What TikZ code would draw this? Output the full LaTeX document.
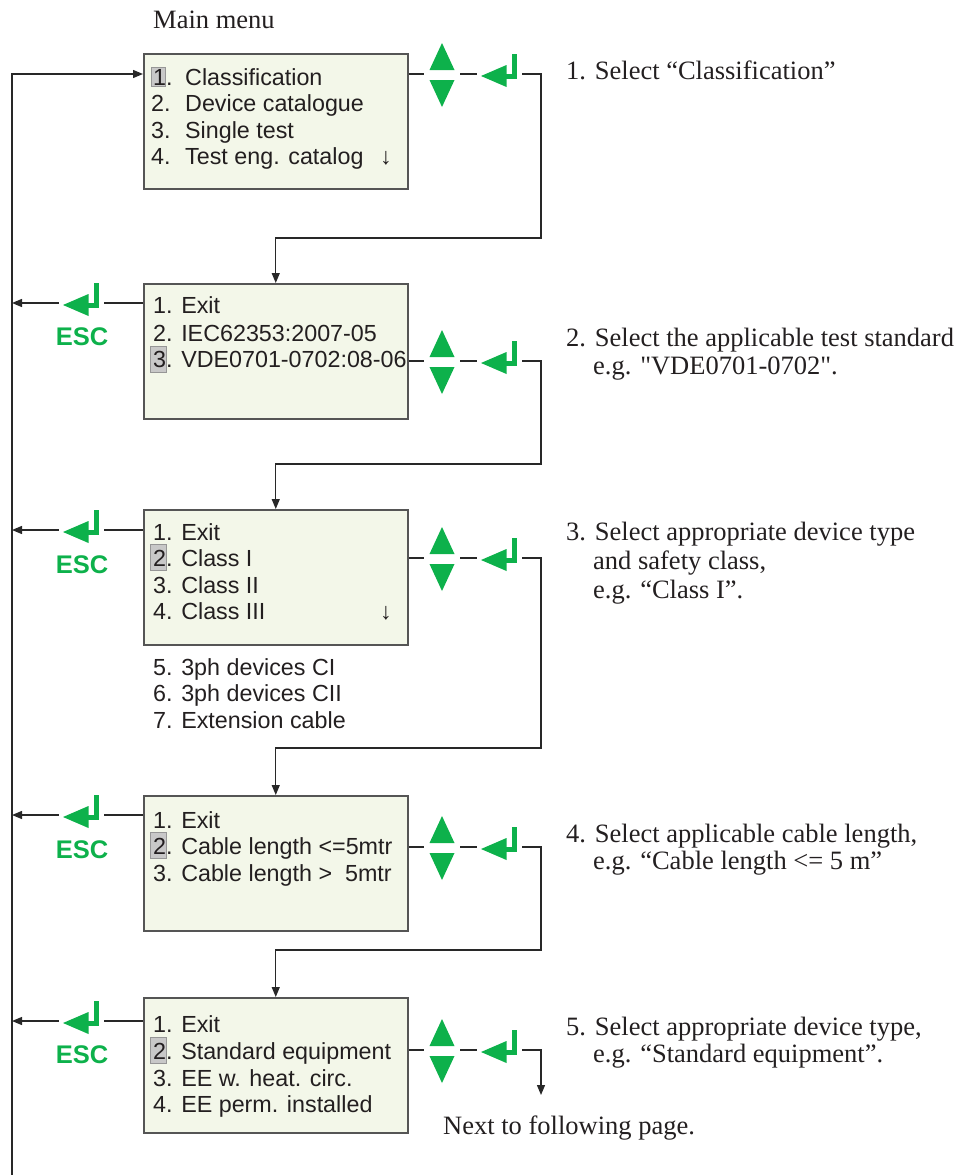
\documentclass[tikz,border=0pt]{standalone}
\usepackage{fontspec}
\setmainfont{Liberation Serif}[Ligatures=TeXOff]
\newfontfamily\lsans{Liberation Sans}
\usetikzlibrary{arrows.meta,calc}
\definecolor{keygreen}{RGB}{13,177,75}
\definecolor{lcdfill}{RGB}{243,247,233}
\definecolor{lcdline}{RGB}{85,85,85}
\definecolor{wirecol}{RGB}{40,40,40}
\definecolor{hlfill}{RGB}{200,200,200}
\definecolor{hlline}{RGB}{150,150,150}
\definecolor{ink}{RGB}{35,31,32}
\tikzset{
  lcd/.style={draw=lcdline, line width=1.5pt, fill=lcdfill, minimum width=264pt, minimum height=135pt, inner sep=0pt, anchor=north west},
  lcdtext/.style={font=\lsans\fontsize{23.3}{27}\selectfont, inner sep=0pt, anchor=base west, text=ink},
  note/.style={font=\fontsize{26.5}{28}\selectfont, inner sep=0pt, anchor=base west, text=ink},
  esclabel/.style={font=\lsans\bfseries\fontsize{25.5}{28}\selectfont, text=keygreen, inner sep=0pt},
  keyslot/.style={inner sep=0pt, minimum width=36pt, minimum height=10pt},
  entslot/.style={inner sep=0pt, minimum width=45pt, minimum height=10pt},
  wire/.style={draw=wirecol, line width=1.3pt},
  arr/.style={wire, -{Triangle[length=10pt,width=8pt]}},
  hl/.style={fill=hlfill, draw=hlline, line width=0.8pt},
  pics/updown/.style={code={
    \fill[keygreen] (-12.5,-4) -- (12.5,-4) -- (0,-31) -- cycle;
    \fill[keygreen] (-12.5,6) -- (12.5,6) -- (0,33) -- cycle;}},
  pics/enterkey/.style={code={
    \fill[keygreen] (-18.5,2) -- (7,-9) -- (7,13) -- cycle;
    \fill[keygreen] (5,-0.5) rectangle (17.5,4.5);
    \fill[keygreen] (12.5,4.5) rectangle (17.5,-20);}},
}
\begin{document}
\begin{tikzpicture}[x=1pt,y=-1pt]
\useasboundingbox (0,0) rectangle (956,1175);

% ---------- boxes ----------
\node[lcd] (b1) at (143,53) {};
\node[lcd] (b2) at (143,283) {};
\node[lcd] (b3) at (143,509) {};
\node[lcd] (b4) at (143,795) {};
\node[lcd] (b5) at (143,997) {};

% ---------- highlights ----------
\draw[hl] (151,86.5) rectangle (165,67);
\draw[hl] (150,372) rectangle (166,346);
\draw[hl] (150,570) rectangle (166,544);
\draw[hl] (150,858) rectangle (166,832);
\draw[hl] (150,1063) rectangle (166,1037);

% ---------- box 1 ----------
\node[note] (title) at (153,28) {Main menu};
\node[lcdtext] (b1n1) at (153,85) {1.};
\node[lcdtext] (b1t1) at (185,85) {Classification};
\node[lcdtext] (b1n2) at (151,111) {2.};
\node[lcdtext] (b1t2) at (185,111) {Device catalogue};
\node[lcdtext] (b1n3) at (151,138) {3.};
\node[lcdtext] (b1t3) at (185,138) {Single test};
\node[lcdtext] (b1n4) at (151,164) {4.};
\node[lcdtext] (b1t4) at (185,164) {Test eng. catalog};
\node[lcdtext] (b1dn) at (380,164) {↓};

% ---------- box 2 ----------
\node[lcdtext] (b2t1) at (153,313) {1. Exit};
\node[lcdtext] (b2t2) at (153,341) {2. IEC62353:2007-05};
\node[lcdtext] (b2t3) at (153,367) {3. VDE0701-0702:08-06};

% ---------- box 3 ----------
\node[lcdtext] (b3t1) at (153,540) {1. Exit};
\node[lcdtext] (b3t2) at (153,566) {2. Class I};
\node[lcdtext] (b3t3) at (153,593) {3. Class II};
\node[lcdtext] (b3t4) at (153,619) {4. Class III};
\node[lcdtext] (b3dn) at (380,619) {↓};
\node[lcdtext] (b3t5) at (153,675) {5. 3ph devices CI};
\node[lcdtext] (b3t6) at (153,701) {6. 3ph devices CII};
\node[lcdtext] (b3t7) at (153,728) {7. Extension cable};

% ---------- box 4 ----------
\node[lcdtext] (b4t1) at (153,828) {1. Exit};
\node[lcdtext] (b4t2) at (153,854) {2. Cable length <=5mtr};
\node[lcdtext] (b4t3) at (153,881) {3. Cable length > \ 5mtr};

% ---------- box 5 ----------
\node[lcdtext] (b5t1) at (153,1032) {1. Exit};
\node[lcdtext] (b5t2) at (153,1059) {2. Standard equipment};
\node[lcdtext] (b5t3) at (153,1086) {3. EE w. heat. circ.};
\node[lcdtext] (b5t4) at (153,1112) {4. EE perm. installed};

% ---------- notes ----------
\node[note] (n1) at (566,79) {1. Select “Classification”};
\node[note] (n2a) at (566,346) {2. Select the applicable test standard};
\node[note] (n2b) at (593,374) {e.g. "VDE0701-0702".};
\node[note] (n3a) at (566,540) {3. Select appropriate device type};
\node[note] (n3b) at (593,569) {and safety class,};
\node[note] (n3c) at (593,598) {e.g. “Class I”.};
\node[note] (n4a) at (566,842) {4. Select applicable cable length,};
\node[note] (n4b) at (593,869) {e.g. “Cable length <= 5 m”};
\node[note] (n5a) at (566,1035) {5. Select appropriate device type,};
\node[note] (n5b) at (593,1062) {e.g. “Standard equipment”.};
\node[note] (next) at (443,1134) {Next to following page.};

% ---------- key slots (right side) ----------
\node[keyslot] (ud1) at (442,74) {};
\node[entslot] (en1) at (499.5,74) {};
\node[keyslot] (ud2) at (442,361) {};
\node[entslot] (en2) at (499.5,361) {};
\node[keyslot] (ud3) at (442,558) {};
\node[entslot] (en3) at (499.5,558) {};
\node[keyslot] (ud4) at (442,847) {};
\node[entslot] (en4) at (499.5,847) {};
\node[keyslot] (ud5) at (442,1050) {};
\node[entslot] (en5) at (499.5,1050) {};
\foreach \k in {1,...,5}{
  \pic at (ud\k) {updown};
  \pic at (en\k) {enterkey};
}

% ---------- ESC slots (left side) ----------
\node[entslot] (x2) at (81.5,303) {};
\node[entslot] (x3) at (81.5,530) {};
\node[entslot] (x4) at (81.5,815) {};
\node[entslot] (x5) at (81.5,1021) {};
\node[esclabel] (esc2) at (82,337) {ESC};
\node[esclabel] (esc3) at (82,565) {ESC};
\node[esclabel] (esc4) at (82,850) {ESC};
\node[esclabel] (esc5) at (82,1055) {ESC};
\foreach \k in {2,...,5}{
  \pic at (x\k) {enterkey};
}

% ---------- rail ----------
\coordinate (railtop) at (12,74);
\coordinate (railbot) at (12,1175);
\draw[arr] (railbot) -- (railtop) -- (b1.west |- railtop);

% ---------- connectors ----------
\foreach \k in {1,...,5}{
  \draw[wire] (b\k.east |- ud\k) -- (ud\k);
  \draw[wire] (ud\k) -- (en\k);
}
\foreach \k in {2,...,5}{
  \draw[wire] (b\k.west |- x\k) -- (x\k);
  \draw[arr] (x\k.west) -- (x\k.west -| railtop);
}
\coordinate (t1) at (541,238);
\coordinate (t2) at (541,464);
\coordinate (t3) at (541,748);
\coordinate (t4) at (541,950);
\coordinate (t5) at (541,1095);
\draw[arr] (en1.east) -| (t1) -| (b2.north);
\draw[arr] (en2.east) -| (t2) -| (b3.north);
\draw[arr] (en3.east) -| (t3) -| (b4.north);
\draw[arr] (en4.east) -| (t4) -| (b5.north);
\draw[arr] (en5.east) -| (t5);
\end{tikzpicture}
\end{document}
